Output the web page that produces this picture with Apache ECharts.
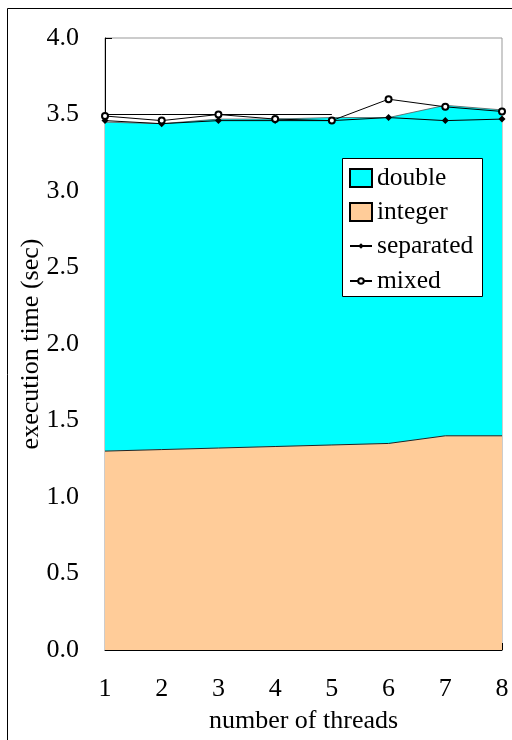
<!DOCTYPE html>
<html><head><meta charset="utf-8">
<script src="https://cdn.jsdelivr.net/npm/echarts@6/dist/echarts.min.js"></script>
<style>html,body{margin:0;padding:0;background:#fff}#c{width:512px;height:740px}</style>
</head><body><div id="c"></div>
<script>
const threads = ['1','2','3','4','5','6','7','8'];
const integerVals = [1.30, 1.31, 1.32, 1.33, 1.34, 1.35, 1.40, 1.40];
const doubleVals = [2.15, 2.13, 2.15, 2.14, 2.14, 2.13, 2.16, 2.13];
const separatedVals = [3.46, 3.44, 3.46, 3.46, 3.46, 3.48, 3.46, 3.47];
const mixedVals = [3.49, 3.46, 3.50, 3.47, 3.46, 3.60, 3.55, 3.52];
const flatVals = [3.50, 3.50, 3.50, 3.50, 3.50, null, null, null];
const yTicks = ['0.0','0.5','1.0','1.5','2.0','2.5','3.0','3.5','4.0'];

const font = '"Liberation Serif", "Times New Roman", "DejaVu Serif", serif';
const fs = 26;
const chart = echarts.init(document.getElementById('c'), null, {renderer:'canvas'});
const legendText = {fontFamily:font,fontSize:fs-0.5,color:'#000',lineHeight:26};
chart.setOption({
  animation:false,
  backgroundColor:'#fff',
  textStyle:{fontFamily:font,color:'#000'},
  graphic:[
    {type:'rect',shape:{x:7.5,y:8.5,width:700,height:900},style:{fill:'none',stroke:'#000',lineWidth:1},z:100},
    {type:'rect',shape:{x:342.5,y:158.5,width:140,height:138},style:{fill:'#fff',stroke:'#000',lineWidth:1},z:6}
  ],
  grid:{left:105,right:10,top:38,bottom:90,outerBoundsMode:'none',containLabel:false,show:true,borderColor:'#999',borderWidth:1,backgroundColor:'transparent'},
  legend:[{
    orient:'vertical',left:349,top:165,z:10,
    data:[{name:'double',icon:'rect'},{name:'integer',icon:'rect'}],
    padding:0,itemGap:8,itemWidth:22,itemHeight:18,
    textStyle:legendText
  },{
    orient:'vertical',left:349,top:233,z:10,
    data:['separated','mixed'],
    padding:0,itemGap:9,itemWidth:22,itemHeight:7,
    textStyle:legendText
  }],
  xAxis:{
    type:'category',data:threads,boundaryGap:false,
    name:'number of threads',nameLocation:'middle',nameGap:58,nameMoveOverlap:false,
    nameTextStyle:{fontFamily:font,fontSize:fs,color:'#000'},
    axisLine:{lineStyle:{color:'#000',width:1}},
    axisTick:{inside:true,length:7,lineStyle:{color:'#000'}},
    axisLabel:{fontFamily:font,fontSize:fs,color:'#000',margin:26},
    splitLine:{show:false}
  },
  yAxis:{
    type:'value',min:0,max:4,interval:0.5,
    name:'execution time (sec)',nameLocation:'middle',nameGap:61,nameRotate:90,nameMoveOverlap:false,
    nameTextStyle:{fontFamily:font,fontSize:fs,color:'#000'},
    axisLine:{show:true,lineStyle:{color:'#000',width:1}},
    axisTick:{show:true,inside:true,length:7,lineStyle:{color:'#000'}},
    axisLabel:{fontFamily:font,fontSize:fs,color:'#000',margin:26,formatter:(v,i)=>yTicks[i]},
    splitLine:{show:false}
  },
  series:[
    {name:'integer',type:'line',stack:'t',data:integerVals,symbol:'none',
     lineStyle:{color:'#222',width:1},areaStyle:{color:'#FFCC99',opacity:1},
     itemStyle:{color:'#FFCC99',borderColor:'#000',borderWidth:1},z:1},
    {name:'double',type:'line',stack:'t',data:doubleVals,symbol:'none',
     lineStyle:{color:'#555',width:0.8},areaStyle:{color:'#00FFFF',opacity:1},
     itemStyle:{color:'#00FFFF',borderColor:'#000',borderWidth:1},z:1},
    {name:'flat',type:'line',data:flatVals,symbol:'none',lineStyle:{color:'#000',width:1},z:2},
    {name:'separated',type:'line',data:separatedVals,symbol:'diamond',symbolSize:7,
     lineStyle:{color:'#000',width:1},itemStyle:{color:'#000'},z:3},
    {name:'mixed',type:'line',data:mixedVals,symbol:'emptyCircle',symbolSize:6,
     lineStyle:{color:'#000',width:1},itemStyle:{color:'#000',borderColor:'#000',borderWidth:1},z:3}
  ]
});
</script></body></html>
